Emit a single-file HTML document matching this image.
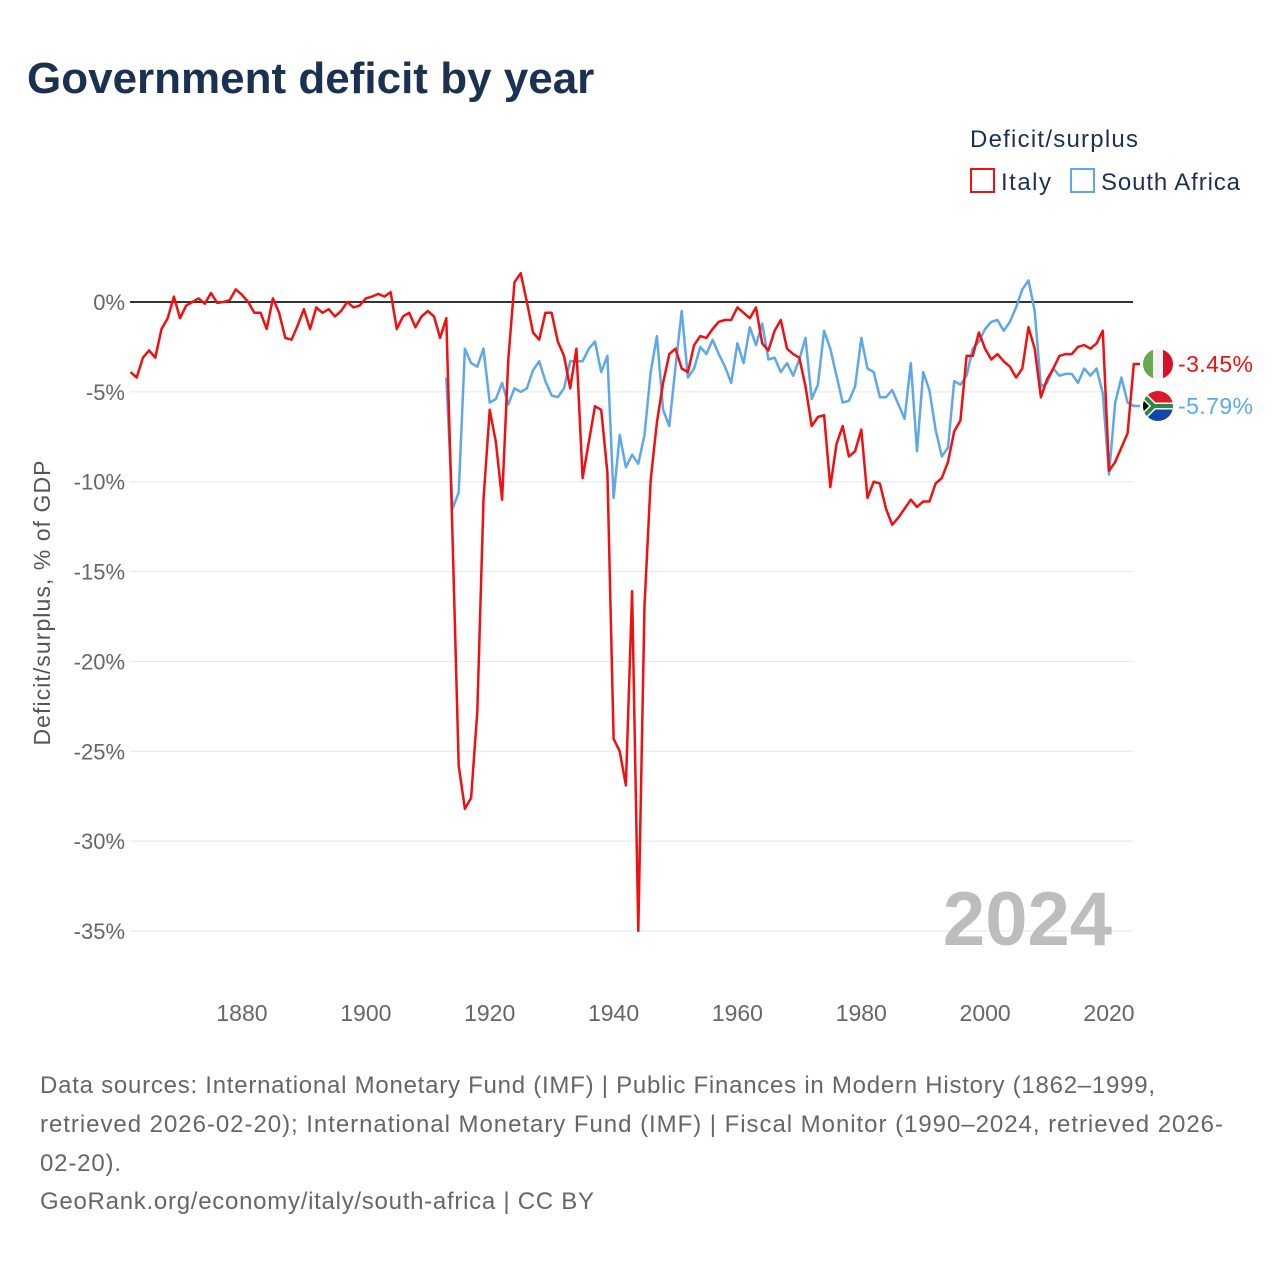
<!DOCTYPE html>
<html><head><meta charset="utf-8"><style>
body{margin:0;background:#fff;font-family:"Liberation Sans",sans-serif;}
svg{display:block}
</style></head><body>
<svg width="1280" height="1280" viewBox="0 0 1280 1280" id="chart">
<text x="27" y="93" font-size="44" font-weight="bold" fill="#1b3152">Government deficit by year</text>
<text x="970" y="147" font-size="24" fill="#1b3152" textLength="168">Deficit/surplus</text>
<g><rect x="971" y="169" width="23" height="23" fill="none" stroke="#f01010" stroke-width="2"/><text x="1001" y="190" font-size="24" fill="#1b3152" textLength="50">Italy</text></g>
<g><rect x="1071" y="169" width="23" height="23" fill="none" stroke="#5ea8ea" stroke-width="2"/><text x="1101" y="190" font-size="24" fill="#1b3152" textLength="139">South Africa</text></g>
<g id="grid"></g>
<g id="xticks"></g>
<text transform="translate(50,603) rotate(-90)" text-anchor="middle" font-size="23" fill="#555" textLength="285">Deficit/surplus, % of GDP</text>
<text x="1112" y="945" text-anchor="end" font-size="76" font-weight="bold" fill="#bdbdbd">2024</text>
<g id="series"></g>
<defs>
<clipPath id="c1"><circle cx="1158" cy="364" r="15"/></clipPath>
<clipPath id="c2"><circle cx="1158" cy="406" r="15"/></clipPath>
</defs>
<g clip-path="url(#c1)"><rect x="1143" y="349" width="10" height="30" fill="#6aa84f"/><rect x="1153" y="349" width="10" height="30" fill="#f2f2f2"/><rect x="1163" y="349" width="10" height="30" fill="#d6102b"/></g>
<g clip-path="url(#c2)"><rect x="1143" y="391" width="30" height="15" fill="#d9192c"/><rect x="1143" y="406" width="30" height="15" fill="#1147a8"/><path d="M1143,391 L1158,406 L1143,421 Z" fill="#111"/><path d="M1143,393 L1156,406 L1143,419" fill="none" stroke="#f2c200" stroke-width="2"/><path d="M1140,392 L1154,406 L1175,406 M1140,420 L1154,406" fill="none" stroke="#fff" stroke-width="7"/><path d="M1140,392 L1154,406 L1175,406 M1140,420 L1154,406" fill="none" stroke="#2a8a3e" stroke-width="4"/></g>
<text x="1178" y="372" font-size="23" fill="#f01010" textLength="75">-3.45%</text>
<text x="1178" y="414" font-size="23" fill="#5ea8ea" textLength="75">-5.79%</text>
<g font-size="24" fill="#666">
<text x="40" y="1093" textLength="1115">Data sources: International Monetary Fund (IMF) | Public Finances in Modern History (1862–1999,</text>
<text x="40" y="1132" textLength="1183">retrieved 2026-02-20); International Monetary Fund (IMF) | Fiscal Monitor (1990–2024, retrieved 2026-</text>
<text x="40" y="1171" textLength="81">02-20).</text>
<text x="40" y="1209" textLength="554">GeoRank.org/economy/italy/south-africa | CC BY</text>
</g>
</svg>
<script>
const yTicks=[0,-5,-10,-15,-20,-25,-30,-35];
const xTicks=[1880,1900,1920,1940,1960,1980,2000,2020];
const italyStart=1862;
const italyValues=[-3.9,-4.2,-3.1,-2.7,-3.1,-1.5,-0.9,0.3,-0.9,-0.2,0,0.2,-0.1,0.5,-0.05,0,0.1,0.7,0.4,0,-0.6,-0.6,-1.5,0.2,-0.6,-2.0,-2.1,-1.3,-0.4,-1.5,-0.3,-0.6,-0.4,-0.8,-0.5,0,-0.3,-0.2,0.2,0.3,0.45,0.3,0.55,-1.5,-0.8,-0.6,-1.4,-0.8,-0.5,-0.8,-2.0,-0.9,-13,-25.8,-28.2,-27.6,-22.8,-11,-6.0,-7.8,-11.0,-3.2,1.1,1.6,0,-1.7,-2.1,-0.6,-0.6,-2.2,-3.0,-4.8,-2.6,-9.8,-7.8,-5.8,-6.0,-9.5,-24.3,-25,-26.9,-16.1,-35,-16.9,-9.9,-6.7,-4.5,-2.9,-2.6,-3.7,-3.9,-2.4,-1.9,-2.0,-1.5,-1.1,-1.0,-1.0,-0.3,-0.6,-0.9,-0.3,-2.3,-2.7,-1.6,-1.0,-2.6,-2.9,-3.1,-4.7,-6.9,-6.4,-6.3,-10.3,-7.9,-6.9,-8.6,-8.3,-7.1,-10.9,-10.0,-10.1,-11.5,-12.4,-12.0,-11.5,-11.0,-11.4,-11.1,-11.1,-10.1,-9.8,-8.9,-7.2,-6.6,-3.0,-3.0,-1.7,-2.6,-3.2,-2.9,-3.3,-3.6,-4.2,-3.7,-1.4,-2.6,-5.3,-4.3,-3.7,-3.0,-2.9,-2.9,-2.5,-2.4,-2.6,-2.3,-1.6,-9.4,-8.9,-8.1,-7.3,-3.45];
const saStart=1913;
const saValues=[-4.2,-11.5,-10.6,-2.6,-3.4,-3.6,-2.6,-5.6,-5.4,-4.5,-5.7,-4.8,-5.0,-4.8,-3.8,-3.3,-4.4,-5.2,-5.3,-4.8,-3.3,-3.3,-3.3,-2.6,-2.2,-3.9,-3.0,-10.9,-7.4,-9.2,-8.5,-9.0,-7.4,-3.9,-1.9,-6.0,-6.9,-3.6,-0.5,-4.2,-3.7,-2.5,-2.9,-2.1,-2.9,-3.6,-4.5,-2.3,-3.4,-1.4,-2.4,-1.2,-3.2,-3.1,-3.9,-3.4,-4.1,-3.2,-2.0,-5.4,-4.6,-1.6,-2.6,-4.1,-5.6,-5.5,-4.7,-2.0,-3.7,-3.9,-5.3,-5.3,-4.9,-5.7,-6.5,-3.4,-8.3,-3.9,-4.9,-7.1,-8.6,-8.1,-4.4,-4.6,-4.1,-2.6,-2.2,-1.5,-1.1,-1.0,-1.6,-1.1,-0.3,0.7,1.2,-0.5,-4.7,-4.5,-3.7,-4.1,-4.0,-4.0,-4.5,-3.7,-4.1,-3.7,-5.1,-9.6,-5.6,-4.2,-5.6,-5.79];
const NS="http://www.w3.org/2000/svg";
const X=y=>130.5+(y-1862)*6.193;
const Y=v=>302-v*17.97;
const grid=document.getElementById('grid');
yTicks.forEach(t=>{
 const l=document.createElementNS(NS,'line');
 
 
 l.setAttribute('x1',130);l.setAttribute('x2',1133);l.setAttribute('y1',Y(t));l.setAttribute('y2',Y(t));
 l.setAttribute('stroke',t===0?'#333':'#e6e6e6');l.setAttribute('stroke-width',t===0?2:1);
 grid.appendChild(l);
 const tx=document.createElementNS(NS,'text');
 
 
 tx.setAttribute('x',125);tx.setAttribute('y',Y(t)+8);tx.setAttribute('text-anchor','end');
 tx.setAttribute('font-size','22');tx.setAttribute('fill','#666');
 tx.textContent=t+'%';grid.appendChild(tx);
});
const xt=document.getElementById('xticks');
xTicks.forEach(t=>{
 const tx=document.createElementNS(NS,'text');
 
 
 tx.setAttribute('x',X(t));tx.setAttribute('y',1021);tx.setAttribute('text-anchor','middle');
 tx.setAttribute('font-size','23');tx.setAttribute('fill','#666');
 tx.textContent=t;xt.appendChild(tx);
});
const ser=document.getElementById('series');
function line(start,vals,color,name,ly){
 let d=vals.map((v,i)=>(i?'L':'M')+X(start+i).toFixed(1)+','+Y(v).toFixed(1)).join(' ');
 const last=vals[vals.length-1];
 d+=' L1136,'+Y(last).toFixed(1)+' L1140,'+ly;
 const p=document.createElementNS(NS,'path');
 
 
 p.setAttribute('d',d);p.setAttribute('fill','none');p.setAttribute('stroke',color);
 p.setAttribute('stroke-width','2.5');p.setAttribute('stroke-linejoin','round');
 ser.appendChild(p);
}
line(saStart,saValues,'#5ea8ea','south-africa-line',406);
line(italyStart,italyValues,'#f01010','italy-line',364);
</script>
</body></html>
